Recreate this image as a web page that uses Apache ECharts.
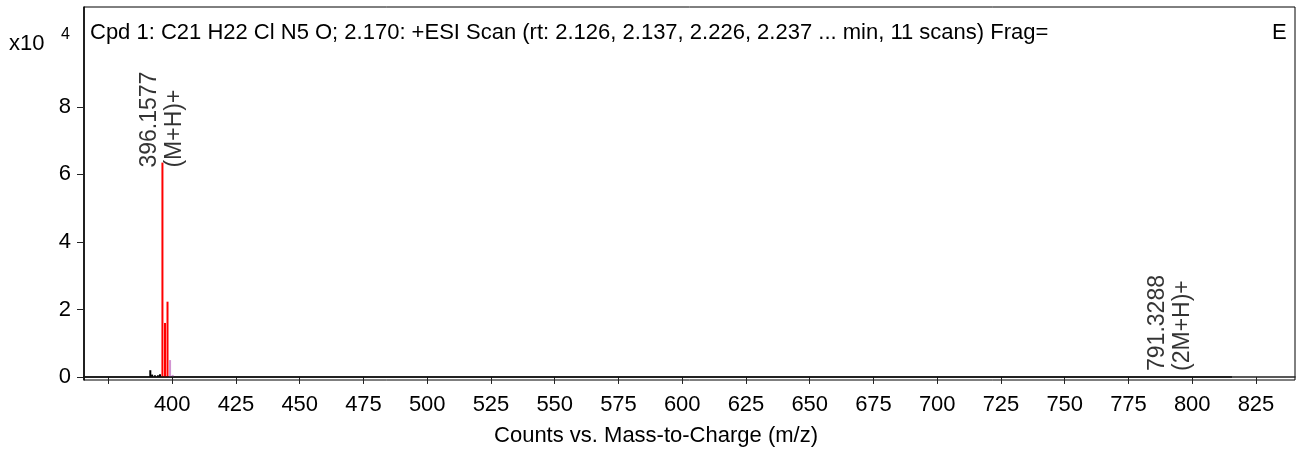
<!DOCTYPE html>
<html>
<head>
<meta charset="utf-8">
<script src="https://cdn.jsdelivr.net/npm/echarts@6/dist/echarts.min.js"></script>
<style>
  html, body { margin: 0; padding: 0; background: #fff; }
  #myChart { width: 1297px; height: 453px; }
</style>
</head>
<body>
<div id="myChart"></div>
<script>
// 质谱峰 [m/z, counts x10^4]
var redPeaks = [[396.16, 6.35], [397.16, 1.6], [398.15, 2.23]]
var pinkPeaks = [[399.15, 0.5], [400.15, 0.06]]
var noisePeaks = [[391.4, 0.2], [392.1, 0.07], [393.2, 0.05], [394.4, 0.05], [395.2, 0.08]]
var baseline = [[360, 0], [815.6, 0]]

// 标注
var annotMz = [396.1577, 791.3288]
var annotY = [6.35, 0]
var annotText = ['396.1577\n(M+H)+', '791.3288\n(2M+H)+']

var xTicks = [375, 400, 425, 450, 475, 500, 525, 550, 575, 600, 625, 650, 675, 700, 725, 750, 775, 800, 825]
var xLabels = [400, 425, 450, 475, 500, 525, 550, 575, 600, 625, 650, 675, 700, 725, 750, 775, 800, 825]
var yLabels = [0, 2, 4, 6, 8]

var titleText = 'Cpd 1: C21 H22 Cl N5 O; 2.170: +ESI Scan (rt: 2.126, 2.137, 2.226, 2.237 ... min, 11 scans) Frag='
var xName = 'Counts vs. Mass-to-Charge (m/z)'

var font = '"Liberation Sans", Arial, sans-serif'
var myChart = echarts.init(document.getElementById('myChart'))

function stickSeries (data, color) {
  return {
    type: 'bar',
    data: data,
    barWidth: 2,
    barGap: '-100%',
    itemStyle: { color: color },
    animation: false
  }
}

var annotData = annotMz.map(function (mz, i) {
  return {
    value: [mz, annotY[i]],
    label: { position: i === 0 ? [0, 5] : [0, -6] }
  }
})

myChart.setOption({
  animation: false,
  grid: {
    left: 84,
    right: 2,
    top: 7,
    bottom: 73,
    show: true,
    borderColor: '#000',
    borderWidth: 1
  },
  xAxis: {
    type: 'value',
    min: 365.4,
    max: 840.3,
    axisLine: { show: true, lineStyle: { color: '#222', width: 1.5 } },
    axisTick: { show: true, customValues: xTicks, length: 7, lineStyle: { color: '#222' } },
    axisLabel: { customValues: xLabels, fontSize: 22, color: '#000', fontFamily: font, margin: 14 },
    splitLine: { show: false }
  },
  yAxis: {
    type: 'value',
    min: -0.09,
    max: 10.96,
    axisLine: { show: true, lineStyle: { color: '#000', width: 1.5 } },
    axisTick: { show: true, customValues: yLabels, length: 7, lineStyle: { color: '#222' } },
    axisLabel: { customValues: yLabels, fontSize: 22, color: '#000', fontFamily: font, margin: 13 },
    splitLine: { show: false }
  },
  graphic: [
    { type: 'text', left: 90, top: 22, style: { text: titleText, font: '22px ' + font, fill: '#000' } },
    { type: 'text', left: 1272, top: 22, style: { text: 'E', font: '22px ' + font, fill: '#000' } },
    { type: 'text', left: 9, top: 33, style: { text: 'x10', font: '22px ' + font, fill: '#000' } },
    { type: 'text', left: 61, top: 27, style: { text: '4', font: '16px ' + font, fill: '#000' } },
    { type: 'text', x: 656, y: 436, style: { text: xName, font: '22px ' + font, fill: '#000', align: 'center', verticalAlign: 'middle' } }
  ],
  series: [
    {
      type: 'line',
      data: baseline,
      symbol: 'none',
      lineStyle: { color: '#111', width: 1.5 },
      clip: true
    },
    stickSeries(noisePeaks, '#000'),
    stickSeries(pinkPeaks, '#d294d2'),
    stickSeries(redPeaks, '#ff0000'),
    {
      type: 'scatter',
      data: annotData,
      symbolSize: 0,
      label: {
        show: true,
        rotate: 90,
        align: 'left',
        verticalAlign: 'middle',
        fontSize: 23,
        lineHeight: 25,
        fontFamily: font,
        color: '#000',
        formatter: function (p) { return annotText[p.dataIndex] }
      }
    }
  ]
}, true)
</script>
</body>
</html>
